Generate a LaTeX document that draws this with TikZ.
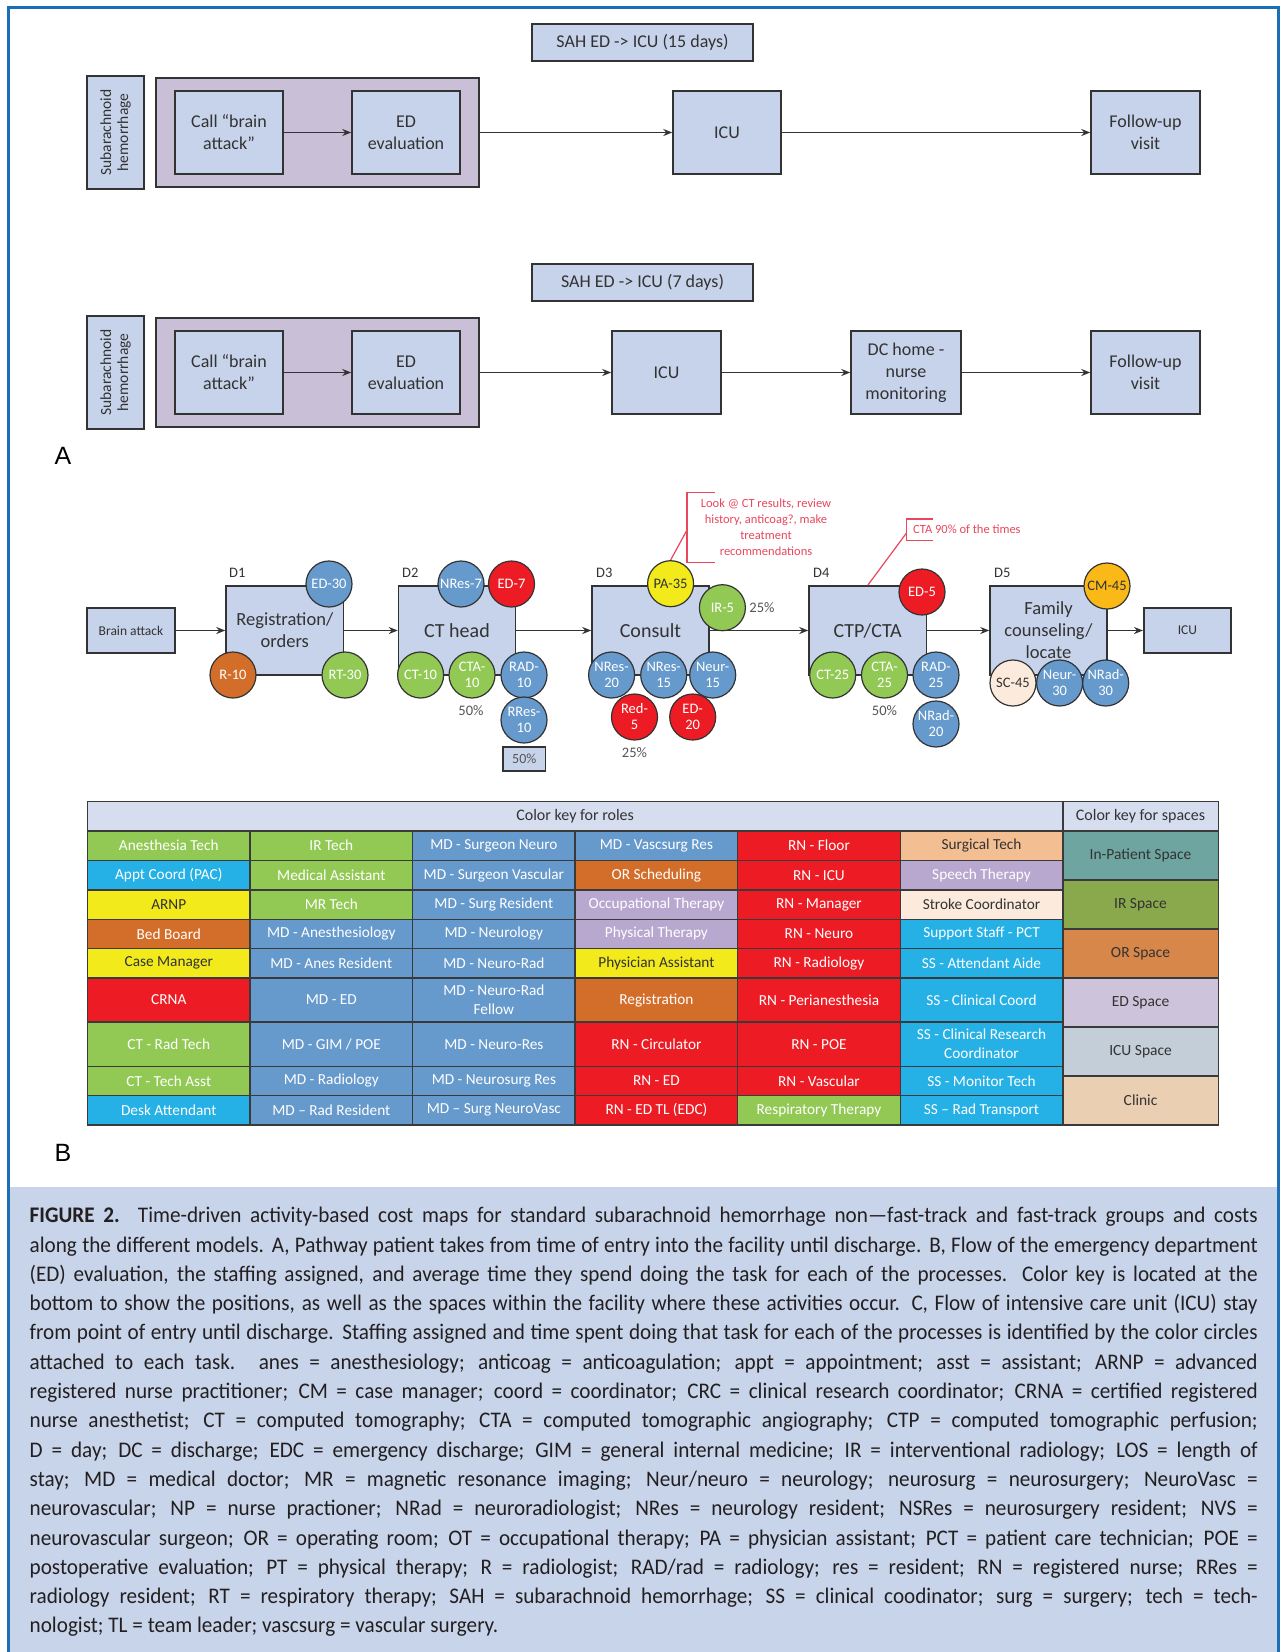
\documentclass[tikz,border=0pt]{standalone}
\usepackage{fontspec}
\setmainfont{Carlito}
\newfontfamily\capfont[FakeStretch=0.95]{Carlito}
\newfontfamily\labfont{Liberation Sans}
\usetikzlibrary{arrows.meta}
\newcommand{\fsz}[2]{\fontsize{#1}{#2}\selectfont}
\definecolor{frameblue}{HTML}{1C6FB7}
\definecolor{capbg}{HTML}{C7D4EA}
\definecolor{boxfill}{HTML}{C6D3EA}
\definecolor{purp}{HTML}{C9BFD7}
\definecolor{mdblue}{HTML}{6699CC}
\definecolor{rnred}{HTML}{ED1C24}
\definecolor{tgreen}{HTML}{92C955}
\definecolor{orng}{HTML}{D36E2A}
\definecolor{yel}{HTML}{F2EA1A}
\definecolor{cyanb}{HTML}{25B0E6}
\definecolor{lav}{HTML}{B8A8CF}
\definecolor{peach}{HTML}{F2BE92}
\definecolor{cream}{HTML}{FCEBDC}
\definecolor{gold}{HTML}{FBB917}
\definecolor{hdrfill}{HTML}{D5DDEF}
\definecolor{spa}{HTML}{6FA5A0}
\definecolor{spb}{HTML}{89A94C}
\definecolor{spc}{HTML}{D8874A}
\definecolor{spd}{HTML}{CDC4DC}
\definecolor{spe}{HTML}{C4CED8}
\definecolor{spf}{HTML}{EBCFB2}
\definecolor{annot}{HTML}{E9475E}
\definecolor{ink}{HTML}{333333}
\definecolor{gridc}{HTML}{3A3A3A}
\definecolor{captxt}{HTML}{231F20}
\definecolor{pctc}{HTML}{555555}
\newcommand\cellA[7]{\node[cell, fill=#5, text=#6, minimum height=#4] (#1) at ({87.5+#2*162.55},#3) {#7};}
\begin{document}
\begin{tikzpicture}[x=1pt,y=-1pt,
  abox/.style={draw=ink, line width=1.5, fill=boxfill, align=center, inner sep=0, text=ink},
  circ/.style={circle, draw=ink, line width=1.2, minimum size=46, inner sep=0, align=center, text=white, font=\fsz{14.5}{16}},
  arr/.style={draw=ink, line width=1.5, -{Stealth[length=9pt,width=7pt]}},
  cell/.style={draw=gridc, line width=1.4, anchor=north west, inner sep=0, outer sep=0, align=center, minimum width=162.55, font=\fsz{15.3}{19}},
  scell/.style={draw=gridc, line width=1.4, anchor=north west, inner sep=0, outer sep=0, align=center, minimum width=155.5, minimum height=49, font=\fsz{15.5}{18}, text=ink},
  pct/.style={text=pctc, font=\fsz{14.5}{16}, inner sep=0},
  dlab/.style={text=ink, font=\fsz{14.5}{16}, inner sep=0, anchor=west},
  note/.style={text=annot, font=\fsz{12.5}{16}, inner sep=0, align=center}]
\useasboundingbox (0,0) rectangle (1286,1652);
\fill[white] (0,0) rectangle (1286,1652);
% caption background and frame
\fill[capbg] (8.5,1187) rectangle (1278.5,1652);
\draw[frameblue, line width=3.5] (8.5,1665) -- (8.5,7.5) -- (1278.5,7.5) -- (1278.5,1665);

% ---------------- Part A, row 1 ----------------
\node[abox, minimum width=221, minimum height=37, font=\fsz{18}{20}] (titA) at (642.5,42.5) {SAH ED -> ICU (15 days)};
\node[abox, rotate=90, minimum width=113, minimum height=57, font=\fsz{15.5}{17}] (labA) at (115.5,132.5) {Subarachnoid\\hemorrhage};
\node[draw=ink, line width=1.5, fill=purp, minimum width=323, minimum height=109, inner sep=0] (contA) at (317.5,132.5) {};
\node[abox, minimum width=108, minimum height=83, font=\fsz{18}{22}] (callA) at (229,132.5) {Call “brain\\attack”};
\node[abox, minimum width=108, minimum height=83, font=\fsz{18}{22}] (edA) at (406,132.5) {ED\\evaluation};
\node[abox, minimum width=108, minimum height=83, font=\fsz{18}{22}] (icuA) at (727,132.5) {ICU};
\node[abox, minimum width=109, minimum height=83, font=\fsz{18}{22}] (fuA) at (1145.5,132.5) {Follow-up\\visit};
\draw[arr] (callA.east) -- (edA.west);
\draw[arr] (contA.east) -- (icuA.west);
\draw[arr] (icuA.east) -- (fuA.west);

% ---------------- Part A, row 2 ----------------
\node[abox, minimum width=221, minimum height=37, font=\fsz{18}{20}] (titB) at (642.5,282.5) {SAH ED -> ICU (7 days)};
\node[abox, rotate=90, minimum width=113, minimum height=57, font=\fsz{15.5}{17}] (labB) at (115.5,372.5) {Subarachnoid\\hemorrhage};
\node[draw=ink, line width=1.5, fill=purp, minimum width=323, minimum height=109, inner sep=0] (contB) at (317.5,372.5) {};
\node[abox, minimum width=108, minimum height=83, font=\fsz{18}{22}] (callB) at (229,372.5) {Call “brain\\attack”};
\node[abox, minimum width=108, minimum height=83, font=\fsz{18}{22}] (edB) at (406,372.5) {ED\\evaluation};
\node[abox, minimum width=109, minimum height=83, font=\fsz{18}{22}] (icuB) at (666.5,372.5) {ICU};
\node[abox, minimum width=110, minimum height=83, font=\fsz{18}{22}] (dcB) at (906,372.5) {DC home -\\nurse\\monitoring};
\node[abox, minimum width=109, minimum height=83, font=\fsz{18}{22}] (fuB) at (1145.5,372.5) {Follow-up\\visit};
\draw[arr] (callB.east) -- (edB.west);
\draw[arr] (contB.east) -- (icuB.west);
\draw[arr] (icuB.east) -- (dcB.west);
\draw[arr] (dcB.east) -- (fuB.west);

\node[text=black, font=\labfont\fsz{25}{26}, inner sep=0] (labelA) at (63,456) {A};

% ---------------- Part B, flow ----------------
\node[abox, minimum width=88, minimum height=45, font=\fsz{13.5}{15}] (brain) at (131,630.5) {Brain attack};
\node[abox, minimum width=117.5, minimum height=89, font=\fsz{18.5}{22}] (reg) at (284.75,630.5) {Registration/\\orders};
\node[abox, minimum width=117, minimum height=89, font=\fsz{20}{22}] (cth) at (457,630.5) {CT head};
\node[abox, minimum width=117, minimum height=89, font=\fsz{20}{22}] (cons) at (650.5,630.5) {Consult};
\node[abox, minimum width=117.5, minimum height=89, font=\fsz{20}{22}] (ctp) at (867.75,630.5) {CTP/CTA};
\node[abox, minimum width=117, minimum height=89, font=\fsz{18.5}{22}] (fam) at (1048.5,630.5) {Family\\counseling/\\locate};
\node[abox, minimum width=87.3, minimum height=45, font=\fsz{13.5}{15}] (icuF) at (1187.4,630.5) {ICU};
\draw[arr] (brain.east) -- (reg.west);
\draw[arr] (reg.east) -- (cth.west);
\draw[arr] (cth.east) -- (cons.west);
\draw[arr] (cons.east) -- (ctp.west);
\draw[arr] (ctp.east) -- (fam.west);
\draw[arr] (fam.east) -- (icuF.west);

\node[dlab] (d1) at (229,573) {D1};
\node[dlab] (d2) at (402,573) {D2};
\node[dlab] (d3) at (596,573) {D3};
\node[dlab] (d4) at (813,573) {D4};
\node[dlab] (d5) at (994,573) {D5};

% annotations
\coordinate (b1) at (687,530);
\coordinate (b2) at (906.5,533);
\draw[annot, line width=1.2] (714.7,492.7) -- (687,492.7) -- (687,562.7) -- (714.7,562.7);
\draw[annot, line width=1.2] (933,519) -- (906.5,519) -- (906.5,540.7) -- (933,540.7);
\node[note] (n1) at (766,526.7) {Look @ CT results, review\\history, anticoag?, make\\treatment\\recommendations};
\node[note, anchor=west] (n2) at (913,529.5) {CTA 90\% of the times};

% circles
\node[circ, fill=mdblue] (c1) at (329,584) {ED-30};
\node[circ, fill=orng] (c2) at (233,675) {R-10};
\node[circ, fill=tgreen] (c3) at (345,675) {RT-30};
\node[circ, fill=mdblue] (c4) at (461,584) {NRes-7};
\node[circ, fill=rnred] (c5) at (511.5,584) {ED-7};
\node[circ, fill=tgreen] (c6) at (420.6,675) {CT-10};
\node[circ, fill=tgreen] (c7) at (472,675) {CTA-\\10};
\node[circ, fill=mdblue] (c8) at (524,675) {RAD-\\10};
\node[circ, fill=mdblue] (c9) at (524,720) {RRes-\\10};
\node[circ, fill=yel, text=ink] (c10) at (670.6,583.7) {PA-35};
\node[circ, fill=tgreen] (c11) at (722.4,607.7) {IR-5};
\node[circ, fill=mdblue] (c12) at (611.6,675) {NRes-\\20};
\node[circ, fill=mdblue] (c13) at (663.7,675) {NRes-\\15};
\node[circ, fill=mdblue] (c14) at (712.7,675) {Neur-\\15};
\node[circ, fill=rnred] (c15) at (634.5,717) {Red-\\5};
\node[circ, fill=rnred] (c16) at (692.7,717) {ED-\\20};
\node[circ, fill=rnred] (c17) at (922,592) {ED-5};
\node[circ, fill=tgreen] (c18) at (832.7,675) {CT-25};
\node[circ, fill=tgreen] (c19) at (884.5,675) {CTA-\\25};
\node[circ, fill=mdblue] (c20) at (936,675) {RAD-\\25};
\node[circ, fill=mdblue] (c21) at (936,724) {NRad-\\20};
\node[circ, fill=gold, text=ink] (c22) at (1107,586) {CM-45};
\node[circ, fill=cream, text=ink] (c23) at (1013,683) {SC-45};
\node[circ, fill=mdblue] (c24) at (1059.6,683) {Neur-\\30};
\node[circ, fill=mdblue] (c25) at (1105.7,683) {NRad-\\30};
\draw[annot, line width=1.2] (c10.north) -- (b1);
\draw[annot, line width=1.2] (ctp.north) -- (b2);

\node[pct] (p1) at (471,711) {50\%};
\node[pct] (p2) at (762,607.7) {25\%};
\node[pct] (p3) at (634.5,753) {25\%};
\node[pct] (p4) at (884.5,711) {50\%};
\node[abox, text=pctc, minimum width=42.6, minimum height=24, font=\fsz{14}{15}] (p5) at (524.3,759) {50\%};

% ---------------- Color key table ----------------
\node[cell, fill=hdrfill, text=ink, minimum width=975.3, minimum height=29.5, font=\fsz{16}{18}] (hdrR) at (87.5,801.5) {Color key for roles};
\node[scell, fill=hdrfill, minimum height=29.5, font=\fsz{16}{18}] (hdrS) at (1062.8,801.5) {Color key for spaces};

\cellA{t11}{0}{831}{29.4}{tgreen}{white}{Anesthesia Tech}
\cellA{t12}{1}{831}{29.4}{tgreen}{white}{IR Tech}
\cellA{t13}{2}{831}{29.4}{mdblue}{white}{MD - Surgeon Neuro}
\cellA{t14}{3}{831}{29.4}{mdblue}{white}{MD - Vascsurg Res}
\cellA{t15}{4}{831}{29.4}{rnred}{white}{RN - Floor}
\cellA{t16}{5}{831}{29.4}{peach}{ink}{Surgical Tech}

\cellA{t21}{0}{860.4}{29.4}{cyanb}{white}{Appt Coord (PAC)}
\cellA{t22}{1}{860.4}{29.4}{tgreen}{white}{Medical Assistant}
\cellA{t23}{2}{860.4}{29.4}{mdblue}{white}{MD - Surgeon Vascular}
\cellA{t24}{3}{860.4}{29.4}{orng}{white}{OR Scheduling}
\cellA{t25}{4}{860.4}{29.4}{rnred}{white}{RN - ICU}
\cellA{t26}{5}{860.4}{29.4}{lav}{white}{Speech Therapy}

\cellA{t31}{0}{889.8}{29.4}{yel}{ink}{ARNP}
\cellA{t32}{1}{889.8}{29.4}{tgreen}{white}{MR Tech}
\cellA{t33}{2}{889.8}{29.4}{mdblue}{white}{MD - Surg Resident}
\cellA{t34}{3}{889.8}{29.4}{lav}{white}{Occupational Therapy}
\cellA{t35}{4}{889.8}{29.4}{rnred}{white}{RN - Manager}
\cellA{t36}{5}{889.8}{29.4}{cream}{ink}{Stroke Coordinator}

\cellA{t41}{0}{919.2}{29.4}{orng}{white}{Bed Board}
\cellA{t42}{1}{919.2}{29.4}{mdblue}{white}{MD - Anesthesiology}
\cellA{t43}{2}{919.2}{29.4}{mdblue}{white}{MD - Neurology}
\cellA{t44}{3}{919.2}{29.4}{lav}{white}{Physical Therapy}
\cellA{t45}{4}{919.2}{29.4}{rnred}{white}{RN - Neuro}
\cellA{t46}{5}{919.2}{29.4}{cyanb}{white}{Support Staff - PCT}

\cellA{t51}{0}{948.6}{29.4}{yel}{ink}{Case Manager}
\cellA{t52}{1}{948.6}{29.4}{mdblue}{white}{MD - Anes Resident}
\cellA{t53}{2}{948.6}{29.4}{mdblue}{white}{MD - Neuro-Rad}
\cellA{t54}{3}{948.6}{29.4}{yel}{ink}{Physician Assistant}
\cellA{t55}{4}{948.6}{29.4}{rnred}{white}{RN - Radiology}
\cellA{t56}{5}{948.6}{29.4}{cyanb}{white}{SS - Attendant Aide}

\cellA{t61}{0}{978}{44.1}{rnred}{white}{CRNA}
\cellA{t62}{1}{978}{44.1}{mdblue}{white}{MD - ED}
\cellA{t63}{2}{978}{44.1}{mdblue}{white}{MD - Neuro-Rad\\Fellow}
\cellA{t64}{3}{978}{44.1}{orng}{white}{Registration}
\cellA{t65}{4}{978}{44.1}{rnred}{white}{RN - Perianesthesia}
\cellA{t66}{5}{978}{44.1}{cyanb}{white}{SS - Clinical Coord}

\cellA{t71}{0}{1022.1}{44.1}{tgreen}{white}{CT - Rad Tech}
\cellA{t72}{1}{1022.1}{44.1}{mdblue}{white}{MD - GIM / POE}
\cellA{t73}{2}{1022.1}{44.1}{mdblue}{white}{MD - Neuro-Res}
\cellA{t74}{3}{1022.1}{44.1}{rnred}{white}{RN - Circulator}
\cellA{t75}{4}{1022.1}{44.1}{rnred}{white}{RN - POE}
\cellA{t76}{5}{1022.1}{44.1}{cyanb}{white}{SS - Clinical Research\\Coordinator}

\cellA{t81}{0}{1066.2}{29.4}{tgreen}{white}{CT - Tech Asst}
\cellA{t82}{1}{1066.2}{29.4}{mdblue}{white}{MD - Radiology}
\cellA{t83}{2}{1066.2}{29.4}{mdblue}{white}{MD - Neurosurg Res}
\cellA{t84}{3}{1066.2}{29.4}{rnred}{white}{RN - ED}
\cellA{t85}{4}{1066.2}{29.4}{rnred}{white}{RN - Vascular}
\cellA{t86}{5}{1066.2}{29.4}{cyanb}{white}{SS - Monitor Tech}

\cellA{t91}{0}{1095.6}{29.4}{cyanb}{white}{Desk Attendant}
\cellA{t92}{1}{1095.6}{29.4}{mdblue}{white}{MD – Rad Resident}
\cellA{t93}{2}{1095.6}{29.4}{mdblue}{white}{MD – Surg NeuroVasc}
\cellA{t94}{3}{1095.6}{29.4}{rnred}{white}{RN - ED TL (EDC)}
\cellA{t95}{4}{1095.6}{29.4}{tgreen}{white}{Respiratory Therapy}
\cellA{t96}{5}{1095.6}{29.4}{cyanb}{white}{SS – Rad Transport}

\node[scell, fill=spa] (s1) at (1062.8,831) {In-Patient Space};
\node[scell, fill=spb] (s2) at (1062.8,880) {IR Space};
\node[scell, fill=spc] (s3) at (1062.8,929) {OR Space};
\node[scell, fill=spd] (s4) at (1062.8,978) {ED Space};
\node[scell, fill=spe] (s5) at (1062.8,1027) {ICU Space};
\node[scell, fill=spf] (s6) at (1062.8,1076) {Clinic};

\node[text=black, font=\labfont\fsz{25}{26}, inner sep=0] (labelB) at (63,1153) {B};

% ---------------- Caption ----------------
\node[anchor=north west, inner sep=0, text=captxt] (caption) at (29.5,1207) {\parbox{1228pt}{\capfont\fsz{22.3}{29.3}\noindent\hbadness=10000\hyphenpenalty=10000
\textbf{FIGURE 2.} Time-driven activity-based cost maps for standard subarachnoid hemorrhage non—fast-track and fast-track groups and costs\linebreak
along the different models. A, Pathway patient takes from time of entry into the facility until discharge. B, Flow of the emergency department\linebreak
(ED) evaluation, the staffing assigned, and average time they spend doing the task for each of the processes. Color key is located at the\linebreak
bottom to show the positions, as well as the spaces within the facility where these activities occur. C, Flow of intensive care unit (ICU) stay\linebreak
from point of entry until discharge. Staffing assigned and time spent doing that task for each of the processes is identified by the color circles\linebreak
attached to each task. anes = anesthesiology; anticoag = anticoagulation; appt = appointment; asst = assistant; ARNP = advanced\linebreak
registered nurse practitioner; CM = case manager; coord = coordinator; CRC = clinical research coordinator; CRNA = certified registered\linebreak
nurse anesthetist; CT = computed tomography; CTA = computed tomographic angiography; CTP = computed tomographic perfusion;\linebreak
D = day; DC = discharge; EDC = emergency discharge; GIM = general internal medicine; IR = interventional radiology; LOS = length of\linebreak
stay; MD = medical doctor; MR = magnetic resonance imaging; Neur/neuro = neurology; neurosurg = neurosurgery; NeuroVasc =\linebreak
neurovascular; NP = nurse practioner; NRad = neuroradiologist; NRes = neurology resident; NSRes = neurosurgery resident; NVS =\linebreak
neurovascular surgeon; OR = operating room; OT = occupational therapy; PA = physician assistant; PCT = patient care technician; POE =\linebreak
postoperative evaluation; PT = physical therapy; R = radiologist; RAD/rad = radiology; res = resident; RN = registered nurse; RRes =\linebreak
radiology resident; RT = respiratory therapy; SAH = subarachnoid hemorrhage; SS = clinical coodinator; surg = surgery; tech = tech-\linebreak
nologist; TL = team leader; vascsurg = vascular surgery.}};
\end{tikzpicture}
\end{document}
